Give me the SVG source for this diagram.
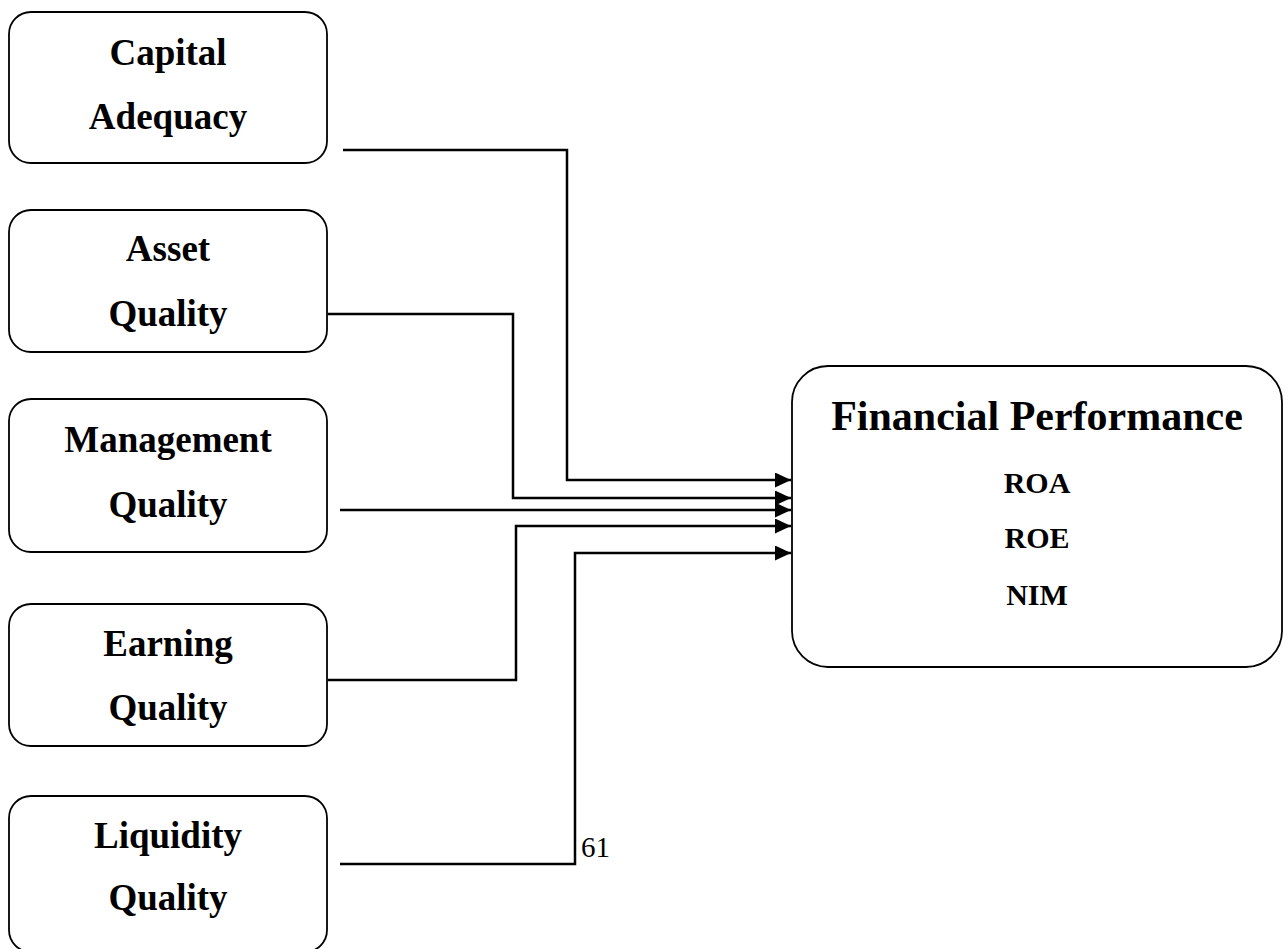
<svg xmlns="http://www.w3.org/2000/svg" width="1288" height="949" viewBox="0 0 1288 949">
<style>
.box{fill:#fff;stroke:#000;stroke-width:1.8}
.t{font-family:"Liberation Serif","Times New Roman",serif;font-weight:bold;font-size:37px;text-anchor:middle;fill:#000}
.big{font-size:42px}
.m{font-size:30px}
.c{fill:none;stroke:#000;stroke-width:2.5}
.pg{font-family:"Liberation Serif","Times New Roman",serif;font-size:29px;fill:#000}
</style>
<defs>
<marker id="ah" markerWidth="16" markerHeight="15" refX="16" refY="7.5" orient="auto" markerUnits="userSpaceOnUse">
<path d="M0,0 L16,7.5 L0,15 Z" fill="#000"/>
</marker>
</defs>
<rect width="1288" height="949" fill="#fff"/>
<g id="capital"><rect class="box" x="9" y="12" width="318" height="151" rx="22"/><text class="t" x="168" y="65">Capital</text><text class="t" x="168" y="129">Adequacy</text></g>
<g id="asset"><rect class="box" x="9" y="210" width="318" height="142" rx="22"/><text class="t" x="168" y="261">Asset</text><text class="t" x="168" y="326">Quality</text></g>
<g id="management"><rect class="box" x="9" y="399" width="318" height="153" rx="22"/><text class="t" x="168" y="452">Management</text><text class="t" x="168" y="517">Quality</text></g>
<g id="earning"><rect class="box" x="9" y="604" width="318" height="142" rx="22"/><text class="t" x="168" y="656">Earning</text><text class="t" x="168" y="720">Quality</text></g>
<g id="liquidity"><rect class="box" x="9" y="796" width="318" height="156" rx="22"/><text class="t" x="168" y="848">Liquidity</text><text class="t" x="168" y="910">Quality</text></g>
<g id="performance"><rect class="box" x="792" y="366" width="490" height="301" rx="36"/><text class="t big" x="1037" y="430">Financial Performance</text><text class="t m" x="1037" y="493">ROA</text><text class="t m" x="1037" y="548">ROE</text><text class="t m" x="1037" y="605">NIM</text></g>
<g id="connectors">
<polyline class="c" points="343,150 567,150 567,480 791,480" marker-end="url(#ah)"/>
<polyline class="c" points="328,314 513,314 513,498 791,498" marker-end="url(#ah)"/>
<polyline class="c" points="340,510 791,510" marker-end="url(#ah)"/>
<polyline class="c" points="328,680 516,680 516,526 791,526" marker-end="url(#ah)"/>
<polyline class="c" points="340,864 575,864 575,553 791,553" marker-end="url(#ah)"/>
</g>
<text class="pg" x="581" y="857">61</text>
</svg>
